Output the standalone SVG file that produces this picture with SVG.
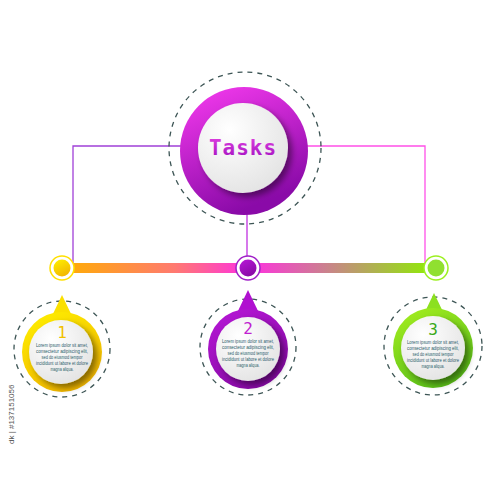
<svg xmlns="http://www.w3.org/2000/svg" width="500" height="500" viewBox="0 0 500 500">
<defs>
<style>
.dash{fill:none;stroke:#3d5555;stroke-width:1.3;stroke-dasharray:5 5}
.wc{fill:url(#gWhite);filter:url(#sh)}
.lorem{font-family:"Liberation Sans",Arial,sans-serif;font-size:5px;fill:#2b5b6b;text-anchor:middle}
.num{font-family:"DejaVu Sans Mono","Liberation Mono",monospace;font-size:16px;text-anchor:middle}
.conn{fill:none;stroke-width:1.3}
</style>
<filter id="sh" x="-30%" y="-30%" width="160%" height="160%">
<feDropShadow dx="4" dy="4" stdDeviation="3" flood-color="#000" flood-opacity="0.45"/>
</filter>
<radialGradient id="gWhite" cx="35%" cy="30%" r="80%">
<stop offset="0" stop-color="#ffffff"/><stop offset="1" stop-color="#e2e2e2"/>
</radialGradient>
<linearGradient id="gMain" x1="0" y1="0" x2="0.4" y2="1">
<stop offset="0" stop-color="#f83cf0"/><stop offset="1" stop-color="#8a0aa8"/>
</linearGradient>
<linearGradient id="gYel" x1="0" y1="0" x2="0.5" y2="1">
<stop offset="0" stop-color="#fff200"/><stop offset="1" stop-color="#f2b800"/>
</linearGradient>
<linearGradient id="gPur" x1="0" y1="0" x2="0.5" y2="1">
<stop offset="0" stop-color="#b818d8"/><stop offset="1" stop-color="#8a0aa8"/>
</linearGradient>
<linearGradient id="gGrn" x1="0" y1="0" x2="0.5" y2="1">
<stop offset="0" stop-color="#a8f020"/><stop offset="1" stop-color="#5cc018"/>
</linearGradient>
<linearGradient id="gBar" x1="62" y1="0" x2="436" y2="0" gradientUnits="userSpaceOnUse">
<stop offset="0" stop-color="#ffae00"/><stop offset="0.3" stop-color="#ff7a70"/><stop offset="0.5" stop-color="#ff30e0"/><stop offset="0.7" stop-color="#cc7f90"/><stop offset="1" stop-color="#8cf000"/>
</linearGradient>
<linearGradient id="gTxt" x1="0" y1="0" x2="0" y2="1">
<stop offset="0" stop-color="#e040e0"/><stop offset="1" stop-color="#a010c0"/>
</linearGradient>
</defs>
<rect width="500" height="500" fill="#ffffff"/>
<g id="connectors">
<path class="conn" stroke="#a040d8" d="M73 268 V146 H245"/>
<path class="conn" stroke="#ff50e8" d="M245 146 H425 V268"/>
<path class="conn" stroke="#c030e0" d="M247 210 V268"/>
<rect x="62" y="263" width="374" height="10" fill="url(#gBar)"/>
</g>
<g id="dots">
<circle cx="62" cy="268" r="12" fill="#fff" stroke="#ffe000" stroke-width="1.5"/>
<circle cx="62" cy="268" r="8.5" fill="url(#gYel)"/>
<circle cx="248" cy="268" r="12" fill="#fff" stroke="#a020c8" stroke-width="1.5"/>
<circle cx="248" cy="268" r="8.5" fill="url(#gPur)"/>
<circle cx="436" cy="268" r="12" fill="#fff" stroke="#9cf020" stroke-width="1.5"/>
<circle cx="436" cy="268" r="8.5" fill="#90e030"/>
</g>
<g id="tasks">
<circle class="dash" cx="245" cy="148" r="76"/>
<circle cx="244" cy="151" r="64" fill="url(#gMain)"/>
<circle class="wc" cx="243" cy="148" r="45"/>
<text x="243" y="155" font-family="DejaVu Sans Mono,Liberation Mono,monospace" font-size="21" font-weight="bold" fill="url(#gTxt)" text-anchor="middle" letter-spacing="1">Tasks</text>
</g>
<g id="step1">
<circle class="dash" cx="62" cy="349" r="48"/>
<path d="M62 295 L51 318 H73 Z" fill="#fbe000"/>
<circle cx="62" cy="352" r="40" fill="url(#gYel)"/>
<circle class="wc" cx="61" cy="352" r="32"/>
<text class="num" x="62" y="338" fill="#f0c000">1</text>
<text class="lorem" x="62" y="347" textLength="52" lengthAdjust="spacingAndGlyphs">Lorem ipsum dolor sit amet,</text>
<text class="lorem" x="62" y="353" textLength="52" lengthAdjust="spacingAndGlyphs">consectetur adipiscing elit,</text>
<text class="lorem" x="62" y="359" textLength="41" lengthAdjust="spacingAndGlyphs">sed do eiusmod tempor</text>
<text class="lorem" x="62" y="365" textLength="52" lengthAdjust="spacingAndGlyphs">incididunt ut labore et dolore</text>
<text class="lorem" x="62" y="371" textLength="23" lengthAdjust="spacingAndGlyphs">magna aliqua.</text>
</g>
<g id="step2">
<circle class="dash" cx="248" cy="347" r="48"/>
<path d="M248 290 L237 313 H259 Z" fill="#b010d0"/>
<circle cx="248" cy="349" r="40" fill="url(#gPur)"/>
<circle class="wc" cx="248" cy="349" r="32"/>
<text class="num" x="248" y="334" fill="#c020d0">2</text>
<text class="lorem" x="248" y="343" textLength="52" lengthAdjust="spacingAndGlyphs">Lorem ipsum dolor sit amet,</text>
<text class="lorem" x="248" y="349" textLength="52" lengthAdjust="spacingAndGlyphs">consectetur adipiscing elit,</text>
<text class="lorem" x="248" y="355" textLength="41" lengthAdjust="spacingAndGlyphs">sed do eiusmod tempor</text>
<text class="lorem" x="248" y="361" textLength="52" lengthAdjust="spacingAndGlyphs">incididunt ut labore et dolore</text>
<text class="lorem" x="248" y="367" textLength="23" lengthAdjust="spacingAndGlyphs">magna aliqua.</text>
</g>
<g id="step3">
<circle class="dash" cx="433" cy="346" r="49"/>
<path d="M434 293 L423 316 H445 Z" fill="#8ce020"/>
<circle cx="433" cy="348" r="40" fill="url(#gGrn)"/>
<circle class="wc" cx="433" cy="348" r="32"/>
<text class="num" x="433" y="335" fill="#38a818">3</text>
<text class="lorem" x="433" y="344" textLength="52" lengthAdjust="spacingAndGlyphs">Lorem ipsum dolor sit amet,</text>
<text class="lorem" x="433" y="350" textLength="52" lengthAdjust="spacingAndGlyphs">consectetur adipiscing elit,</text>
<text class="lorem" x="433" y="356" textLength="41" lengthAdjust="spacingAndGlyphs">sed do eiusmod tempor</text>
<text class="lorem" x="433" y="362" textLength="52" lengthAdjust="spacingAndGlyphs">incididunt ut labore et dolore</text>
<text class="lorem" x="433" y="368" textLength="23" lengthAdjust="spacingAndGlyphs">magna aliqua.</text>
</g>
<text x="14" y="444" transform="rotate(-90 14 444)" font-family="Liberation Sans,Arial,sans-serif" font-size="8" fill="#555">dk | #137151056</text>
</svg>
